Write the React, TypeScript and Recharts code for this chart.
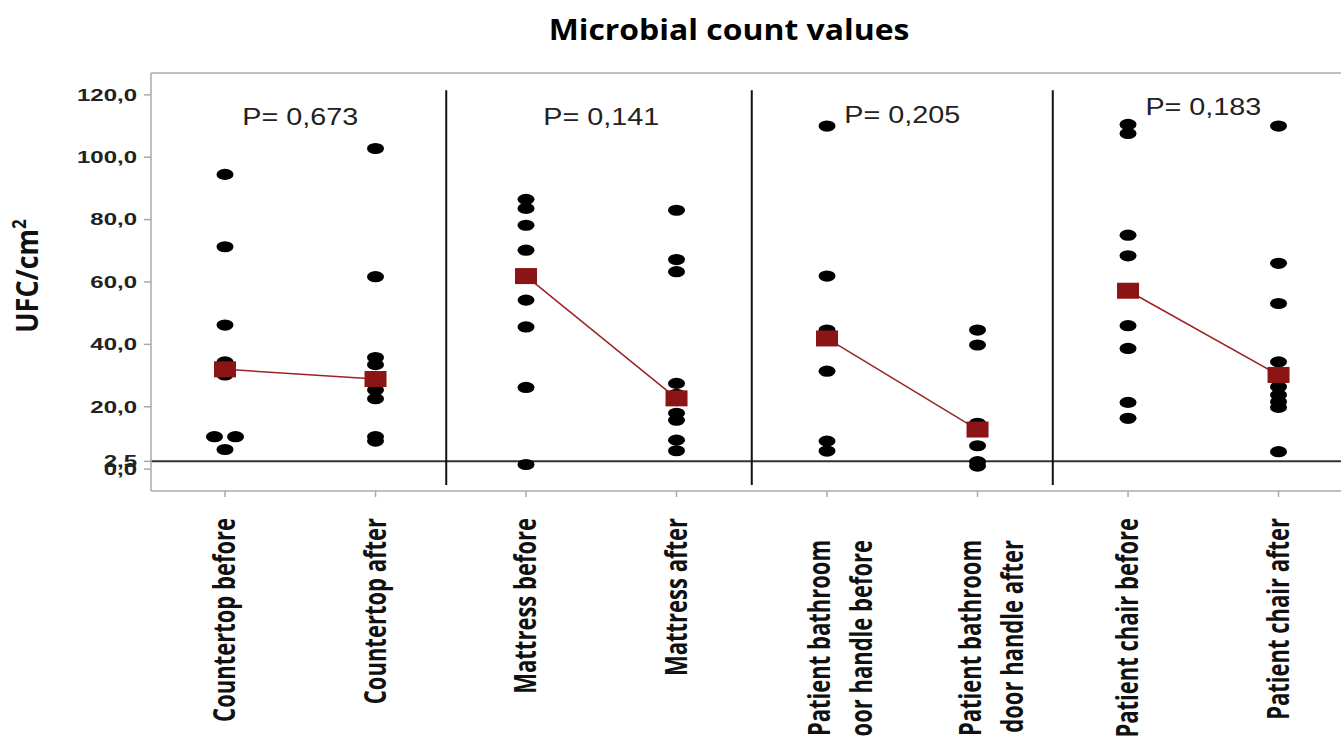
import React from 'react';
import { ScatterChart, Scatter, XAxis, YAxis, ReferenceLine } from 'recharts';

// Categories (tick labels), two-line labels split with \n
const categories = [
  'Countertop before',
  'Countertop after',
  'Mattress before',
  'Mattress after',
  'Patient bathroom\ndoor handle before',
  'Patient bathroom\ndoor handle after',
  'Patient chair before',
  'Patient chair after',
];

// Individual sample values (UFC/cm2)
const countertopBefore = [94.5, 71.3, 46.2, 34.4, 30.2, 10.4, 10.4, 6.3];
const countertopAfter = [102.8, 61.7, 35.8, 33.5, 27.5, 25.4, 22.6, 10.4, 9.0];
const mattressBefore = [86.5, 83.6, 78.2, 70.2, 54.2, 45.6, 26.2, 1.5];
const mattressAfter = [83.0, 67.2, 63.3, 27.5, 24.0, 17.9, 15.7, 9.3, 5.9];
const doorHandleBefore = [110.0, 61.9, 44.6, 31.4, 9.0, 5.8];
const doorHandleAfter = [44.6, 39.8, 14.7, 7.5, 2.4, 1.0];
const chairBefore = [110.5, 107.6, 75.0, 68.4, 46.0, 38.7, 21.4, 16.3];
const chairAfter = [110.0, 66.0, 53.1, 34.4, 26.4, 23.8, 21.6, 19.8, 5.6];

// Means (red squares)
const means = [32.0, 28.9, 61.9, 22.7, 41.9, 12.7, 57.2, 30.2];

// P values per pair and the height of their label
const pValues = ['0,673', '0,141', '0,205', '0,183'];
const pLabelY = [110.4, 110.4, 110.9, 113.5];

const yTicks = [0, 2.5, 20, 40, 60, 80, 100, 120];
const dividers = [1.47, 3.5, 5.5];
const baseline = 2.5;

const columns = [
  countertopBefore, countertopAfter, mattressBefore, mattressAfter,
  doorHandleBefore, doorHandleAfter, chairBefore, chairAfter,
];

// equal values in a column sit side by side
const dotData = columns.flatMap((vals, i) => {
  const seen: Record<string, number> = {};
  return vals.map((v) => {
    const n = vals.filter((w) => w === v).length;
    const k = seen[v] || 0;
    seen[v] = k + 1;
    return { x: i + (k - (n - 1) / 2) * 0.14, y: v };
  });
});

const meanPairs = [0, 1, 2, 3].map((g) => [
  { x: g * 2, y: means[g * 2] },
  { x: g * 2 + 1, y: means[g * 2 + 1] },
]);

const pData = pValues.map((p, g) => ({ x: g * 2 + 0.5, y: pLabelY[g], p }));

const fmt = (v: number) => v.toFixed(1).replace('.', ',');
const GRAY = '#aaaaaa';

const Dot = (props: any) => <ellipse cx={props.cx} cy={props.cy} rx={8.5} ry={5.6} fill="#000" />;

const MeanSquare = (props: any) => (
  <rect x={props.cx - 11} y={props.cy - 8} width={22} height={16} fill="#8b1414" />
);

const PLabel = (props: any) => (
  <text
    transform={`translate(${props.cx},${props.cy}) scale(1.25,1)`}
    textAnchor="middle"
    fontFamily="Liberation Sans, Arial, sans-serif"
    fontSize={23}
    fill="#222"
  >
    P= {props.payload.p}
  </text>
);

const YTick = (props: any) => {
  const { x, y, payload } = props;
  return (
    <text
      transform={`translate(${x},${y}) scale(1.5,1)`}
      textAnchor="end"
      dy="0.36em"
      fontFamily="Liberation Sans, Arial, sans-serif"
      fontWeight={700}
      fontSize={16}
      fill="#222"
    >
      {fmt(payload.value)}
    </text>
  );
};

const XTick = (props: any) => {
  const { x, y, payload } = props;
  const lines = (categories[payload.value] || '').split('\n');
  const offsets = lines.length === 1 ? [10] : [3, 45];
  const top = lines.length === 1 ? 21 : 43;
  return (
    <g>
      {lines.map((line, i) => (
        <text
          key={i}
          transform={`translate(${x + offsets[i]},${y + top}) scale(1.35,1) rotate(-90)`}
          textAnchor="end"
          fontFamily="Open Sans, sans-serif"
          fontWeight={700}
          fontSize={22}
          fill="#111"
        >
          {line}
        </text>
      ))}
    </g>
  );
};

const YLabel = () => (
  <text
    transform="translate(38,276) scale(1.1,1) rotate(-90)"
    textAnchor="middle"
    fontFamily="Open Sans, sans-serif"
    fontWeight={700}
    fontSize={27}
    fill="#111"
  >
    UFC/cm<tspan dy={-11} fontSize={17}>2</tspan>
  </text>
);

export default function App() {
  return (
    <div style={{ position: 'absolute', left: 0, top: 0, width: 1341, height: 737, background: '#fff' }}>
      <div
        style={{
          position: 'absolute',
          left: 729,
          top: 14,
          transform: 'translateX(-50%) scaleX(1.1)',
          fontFamily: 'Open Sans, sans-serif',
          fontWeight: 700,
          fontSize: 29,
          lineHeight: '29px',
          whiteSpace: 'nowrap',
          color: '#000',
        }}
      >
        Microbial count values
      </div>
      <ScatterChart width={1341} height={737} margin={{ top: 73, right: 0, bottom: 0, left: 0 }}>
        <XAxis
          type="number"
          dataKey="x"
          domain={[-0.4917, 7.415]}
          ticks={[0, 1, 2, 3, 4, 5, 6, 7]}
          interval={0}
          allowDataOverflow
          height={246}
          tickSize={6}
          tickMargin={0}
          axisLine={{ stroke: GRAY, strokeWidth: 1.5 }}
          tickLine={{ stroke: GRAY, strokeWidth: 1.5 }}
          tick={<XTick />}
        />
        <YAxis
          type="number"
          dataKey="y"
          domain={[-7, 127]}
          ticks={yTicks}
          interval={0}
          allowDataOverflow
          width={151}
          tickSize={7}
          tickMargin={7}
          axisLine={{ stroke: GRAY, strokeWidth: 1.5 }}
          tickLine={{ stroke: GRAY, strokeWidth: 1.5 }}
          tick={<YTick />}
          label={<YLabel />}
        />
        <ReferenceLine y={127} stroke={GRAY} strokeWidth={1.5} />
        <ReferenceLine y={baseline} stroke="#333" strokeWidth={2} />
        {dividers.map((d) => (
          <ReferenceLine
            key={d}
            segment={[{ x: d, y: 121.5 }, { x: d, y: -5.1 }]}
            stroke="#111"
            strokeWidth={2}
          />
        ))}
        <Scatter data={dotData} shape={<Dot />} isAnimationActive={false} />
        {meanPairs.map((pair, g) => (
          <Scatter
            key={g}
            data={pair}
            line={{ stroke: '#9b2323', strokeWidth: 1.5 }}
            shape={<MeanSquare />}
            isAnimationActive={false}
          />
        ))}
        <Scatter data={pData} shape={<PLabel />} isAnimationActive={false} />
      </ScatterChart>
    </div>
  );
}
